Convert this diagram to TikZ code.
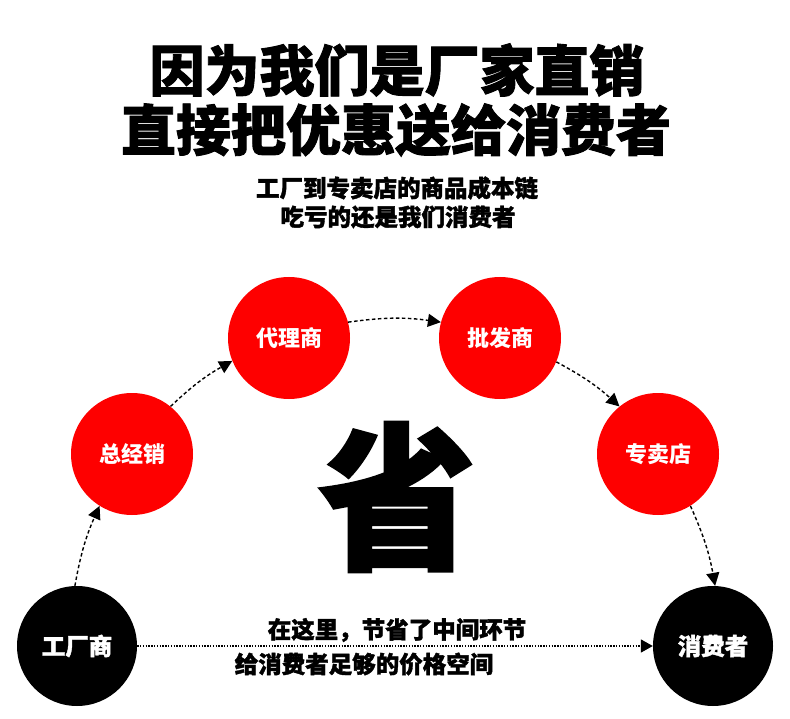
\documentclass[tikz,border=0pt]{standalone}
\usepackage{fontspec}
\setmainfont{Noto Sans CJK SC}
\newfontfamily\cjk{Noto Sans CJK SC}
\newfontfamily\cjkheavy[BoldFeatures={FakeBold=1.6}]{Noto Sans CJK SC}
\usetikzlibrary{arrows.meta}
\tikzset{
  redc/.style={circle, fill={rgb,255:red,254;green,0;blue,0}, minimum size=122pt, inner sep=0pt, text=white, font=\fontsize{22}{22}\selectfont\cjk\bfseries},
  blkc/.style={circle, fill=black, minimum size=120pt, inner sep=0pt, text=white, font=\fontsize{23.5}{23.5}\selectfont\cjkheavy\bfseries},
  dasharrow/.style={line width=1.4pt, dash pattern=on 3.5pt off 2.5pt, -{Triangle[length=13pt,width=13pt]}},
  dotarrow/.style={line width=1.6pt, dash pattern=on 1.4pt off 1.4pt, -{Triangle[length=12pt,width=13pt]}},
  titletext/.style={font=\fontsize{55}{55}\selectfont\cjkheavy\bfseries, inner sep=0pt},
  subtext/.style={font=\fontsize{23.5}{23.5}\selectfont\cjkheavy\bfseries, inner sep=0pt},
}
\begin{document}
\begin{tikzpicture}[x=1pt,y=-1pt]
\fill[white] (0,0) rectangle (790,719);
\useasboundingbox (0,0) rectangle (790,719);
% titles
\node[titletext] (t1) at (397,70) {因为我们是厂家直销};
\node[titletext] (t2) at (396,130) {直接把优惠送给消费者};
\node[subtext] (s1) at (397,188) {工厂到专卖店的商品成本链};
\node[subtext] (s2) at (398,217) {吃亏的还是我们消费者};
% big character
\node[font=\fontsize{158}{158}\selectfont\cjkheavy\bfseries, inner sep=0pt] (sheng) at (397,497) {省};
% circles
\node[redc] (zjx) at (132,454) {总经销};
\node[redc] (dls) at (289,338) {代理商};
\node[redc] (pfs) at (500,338) {批发商};
\node[redc] (zmd) at (658,454) {专卖店};
\node[blkc] (gcs) at (77,646) {工厂商};
\node[blkc] (xfz) at (713,646) {消费者};
% arc connectors
\draw[dasharrow] (gcs.92) to[bend left=7] (zjx.238);
\draw[dasharrow] (zjx.51) to[bend left=7] (dls.202);
\draw[dasharrow] (dls.15) to[bend left=8] (pfs.165);
\draw[dasharrow] (pfs.337) to[bend left=7] (zmd.129);
\draw[dasharrow] (zmd.302) to[bend left=7] (xfz.88);
% bottom connector
\draw[dotarrow] (gcs.east) -- (xfz.west);
\node[subtext] (b1) at (397,630) {在这里，节省了中间环节};
\node[subtext] (b2) at (364,664) {给消费者足够的价格空间};
\end{tikzpicture}
\end{document}
